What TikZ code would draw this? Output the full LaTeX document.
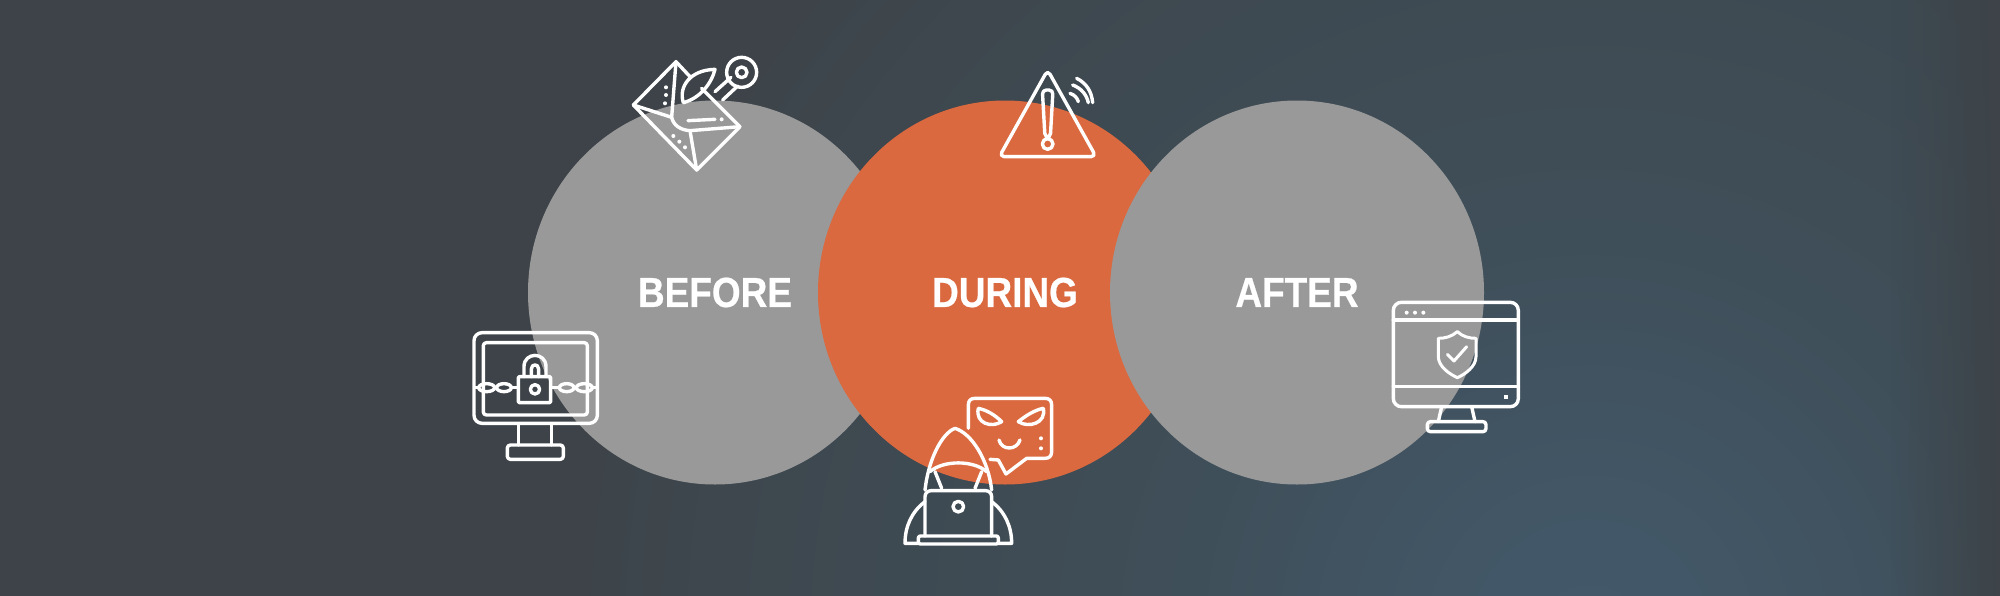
\documentclass[tikz,border=0pt]{standalone}
\usepackage{xcolor}
\usepackage{fontspec}
\setmainfont[FakeStretch=0.88,BoldFeatures={FakeBold=0.5}]{Liberation Sans}
\usepackage{tikz}
\usetikzlibrary{positioning,shapes.geometric,fadings}
\definecolor{slatebg}{HTML}{3D4348}
\definecolor{slatemid}{HTML}{3F4E58}
\definecolor{slateglow}{HTML}{435A6C}
\definecolor{stagegray}{HTML}{999999}
\definecolor{stageorange}{HTML}{DB693F}
\pgfdeclareradialshading{backglow}{\pgfpoint{0bp}{0bp}}{color(0bp)=(slateglow); color(11bp)=(slatemid); color(28bp)=(slatebg); color(50bp)=(slatebg)}

\begin{document}
\begin{tikzpicture}[
    x=1pt, y=-1pt,
    node distance=1cm,
    stage/.style={ellipse, fill=stagegray, minimum width=374pt, minimum height=384pt, inner sep=0pt, outer sep=0pt, text=white, font=\fontsize{42}{42}\selectfont\bfseries},
    hotstage/.style={stage, fill=stageorange},
    iconline/.style={draw=white, line width=3.4pt, line join=round, line cap=round},
    thinline/.style={iconline, line width=3pt},
    iconat/.style={shift={(#1)}, x=0.3333pt, y=-0.3333pt}
]
    \useasboundingbox (0,0) rectangle (2000,595);
    \fill[slatebg] (-5,-5) rectangle (2005,600);
    \begin{scope}
        \clip (-5,-5) rectangle (2005,600);
        \shade[shading=backglow] (1590,640) circle (1000);
        \fill[slatebg, path fading=west] (1890,-5) rectangle (2005,600);
    \end{scope}

    \node[stage] (before) at (715,292.5) {BEFORE};
    \node[hotstage, right=-84pt of before] (during) {DURING};
    \node[stage, right=-82pt of during] (after) {AFTER};

    % phishing mail
    \begin{scope}[iconat={600,30}]
        \draw[iconline] (270,140) -- (228,95) -- (100,225) -- (290,420) -- (420,290) -- (305,175);
        \draw[iconline] (228,95) -- (215,262) -- (100,225);
        \draw[iconline] (215,262) .. controls (220,285) and (240,300) .. (270,302) -- (420,290);
        \draw[iconline] (270,302) -- (290,420);
        \draw[iconline] (250,218) .. controls (235,170) and (270,120) .. (345,118) .. controls (335,160) and (300,205) .. (250,218);
        \draw[iconline] (345,185) -- (393,142);
        \draw[iconline] (368,210) -- (413,168);
        \draw[iconline] (425,127) circle (45);
        \draw[iconline] (425,127) circle (16);
        \draw[iconline] (264,272) -- (345,268);
        \foreach \dotx/\doty in {198/172, 198/195, 195/220, 220/318, 238/335, 255/352, 365/268}
            \fill[white] (\dotx,\doty) circle (6);
    \end{scope}

    % locked screen
    \begin{scope}[iconat={450,320}]
        \draw[iconline, rounded corners=8pt] (72,38) rectangle (442,310);
        \draw[iconline, rounded corners=3pt] (100,68) rectangle (412,285);
        \draw[iconline] (205,315) -- (205,375);
        \draw[iconline] (305,315) -- (305,375);
        \draw[iconline, rounded corners=3pt] (172,375) rectangle (340,418);
        \draw[iconline, rounded corners=1pt] (205,170) rectangle (302,248);
        \draw[iconline] (222,170) -- (222,140) .. controls (222,95) and (288,95) .. (288,140) -- (288,170);
        \draw[iconline] (244,170) -- (244,148) .. controls (244,130) and (266,130) .. (266,148) -- (266,170);
        \draw[iconline] (255,208) circle (14);
        \foreach \linkx/\linkr in {110/24, 162/22, 350/22, 403/24}
            \draw[iconline] (\linkx,203) ellipse ({\linkr} and 12);
        \draw[iconline] (76,203) -- (86,203);
        \draw[iconline] (184,203) -- (205,203);
        \draw[iconline] (302,203) -- (328,203);
        \draw[iconline] (427,203) -- (438,203);
    \end{scope}

    % hacker with speech bubble
    \begin{scope}[iconat={880,380}]
        \draw[iconline] (265,145) -- (265,75) .. controls (265,62) and (272,55) .. (285,55) -- (495,55) .. controls (508,55) and (515,62) .. (515,75) -- (515,215) .. controls (515,228) and (508,235) .. (495,235) -- (440,235) -- (378,282) -- (355,240) -- (330,238);
        \draw[iconline] (295,85) .. controls (320,90) and (345,105) .. (365,125) .. controls (335,145) and (285,130) .. (295,85);
        \draw[iconline] (490,85) .. controls (465,90) and (440,105) .. (415,125) .. controls (445,145) and (500,130) .. (490,85);
        \draw[iconline] (357,180) .. controls (365,212) and (410,212) .. (420,180);
        \fill[white] (483,175) circle (6);
        \fill[white] (483,205) circle (6);
        \draw[iconline] (135,330) .. controls (145,240) and (185,160) .. (225,145) .. controls (275,160) and (325,240) .. (335,330);
        \draw[iconline] (150,275) .. controls (190,240) and (280,240) .. (320,275);
        \draw[iconline] (165,275) -- (185,325);
        \draw[iconline] (305,275) -- (285,325);
        \draw[iconline, rounded corners=6pt] (135,468) -- (135,332) -- (335,332) -- (335,468);
        \draw[iconline] (235,380) circle (16);
        \draw[iconline] (135,365) .. controls (95,395) and (75,440) .. (75,490) -- (115,490);
        \draw[iconline] (335,365) .. controls (375,395) and (395,440) .. (395,490) -- (355,490);
        \draw[iconline, rounded corners=2pt] (115,468) rectangle (355,492);
    \end{scope}

    % alarm triangle
    \begin{scope}[iconat={980,50}]
        \draw[iconline, rounded corners=5pt] (203,60) -- (58,320) -- (348,320) -- cycle;
        \draw[iconline, rounded corners=4pt] (187,120) -- (219,120) -- (211,262) -- (195,262) -- cycle;
        \draw[iconline] (203,282) circle (16);
        \draw[iconline] (270,130) .. controls (285,135) and (292,145) .. (295,155);
        \draw[iconline] (278,105) .. controls (305,115) and (320,135) .. (325,158);
        \draw[iconline] (290,85) .. controls (320,100) and (335,125) .. (338,158);
    \end{scope}

    % shielded screen
    \begin{scope}[iconat={1370,285}]
        \draw[iconline, rounded corners=8pt] (70,52) rectangle (445,365);
        \draw[iconline] (70,105) -- (445,105);
        \draw[iconline] (70,305) -- (445,305);
        \foreach \dotx in {110,135,160}
            \fill[white] (\dotx,83) circle (6);
        \fill[white] (402,329) rectangle (414,341);
        \draw[iconline] (215,365) -- (205,410);
        \draw[iconline] (305,365) -- (315,410);
        \draw[iconline, rounded corners=3pt] (172,410) rectangle (348,440);
        \draw[thinline] (262,140) .. controls (245,155) and (225,160) .. (205,160) -- (205,215) .. controls (205,245) and (240,268) .. (262,278) .. controls (285,268) and (318,245) .. (318,215) -- (318,160) .. controls (298,160) and (278,155) .. (262,140) -- cycle;
        \draw[thinline] (232,208) -- (252,228) -- (290,185);
    \end{scope}
\end{tikzpicture}
\end{document}
